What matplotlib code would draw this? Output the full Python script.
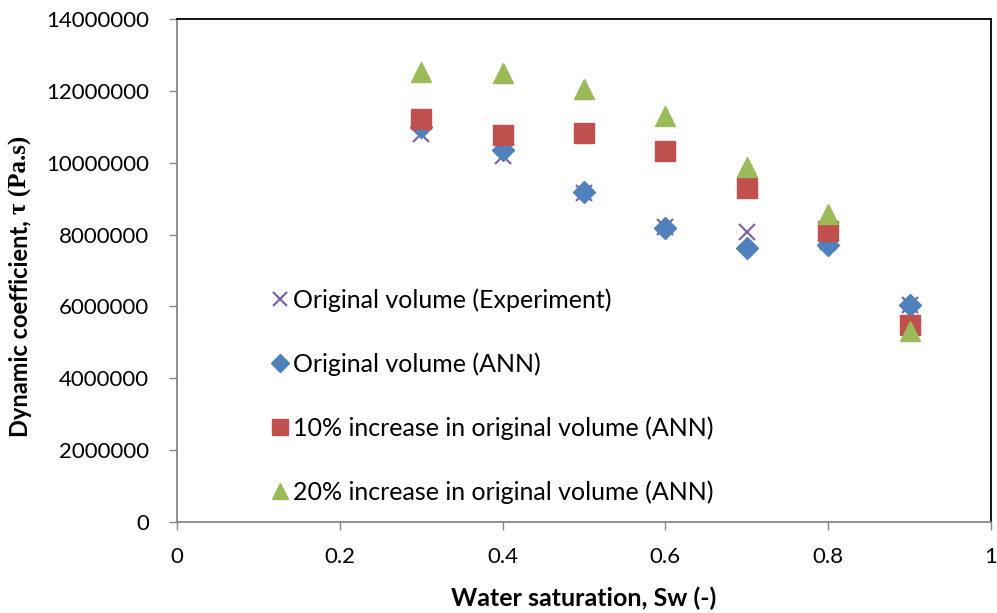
import matplotlib
matplotlib.use("Agg")
import matplotlib.pyplot as plt
from matplotlib.ticker import FixedLocator

# Water saturation values
sw = [0.3, 0.4, 0.5, 0.6, 0.7, 0.8, 0.9]

# Dynamic coefficient (Pa.s) for each case
tau_experiment = [10800000, 10200000, 9150000, 8200000, 8080000, 7800000, 6050000]
tau_ann = [11000000, 10350000, 9180000, 8190000, 7620000, 7700000, 6040000]
tau_ann_10 = [11220000, 10770000, 10830000, 10330000, 9300000, 8110000, 5480000]
tau_ann_20 = [12520000, 12500000, 12050000, 11300000, 9880000, 8570000, 5330000]

labels = [
    "Original volume (Experiment)",
    "Original volume (ANN)",
    "10% increase in original volume (ANN)",
    "20% increase in original volume (ANN)",
]

x_ticks = [0, 0.2, 0.4, 0.6, 0.8, 1]
y_ticks = [0, 2000000, 4000000, 6000000, 8000000, 10000000, 12000000, 14000000]

font = "Lato"
plt.rcParams["font.family"] = [font, "DejaVu Sans"]

fig = plt.figure(figsize=(9.97, 6.13), dpi=100)
ax = fig.add_axes([177 / 997, 1 - 522 / 613, (991 - 177) / 997, (522 - 19) / 613])

ax.plot(sw, tau_experiment, linestyle="none", marker="x", ms=12, mew=1.6,
        color="#8064A2", label=labels[0], zorder=3)
ax.plot(sw, tau_ann, linestyle="none", marker="D", ms=11, color="#4F81BD",
        mec="#4F81BD", label=labels[1], zorder=4)
ax.plot(sw, tau_ann_10, linestyle="none", marker="s", ms=14, color="#C0504D",
        mec="#C0504D", label=labels[2], zorder=5)
ax.plot(sw, tau_ann_20, linestyle="none", marker="^", ms=15, color="#9BBB59",
        mec="#9BBB59", label=labels[3], zorder=6)

ax.set_xlim(0, 1)
ax.set_ylim(0, 14000000)
ax.xaxis.set_major_locator(FixedLocator(x_ticks))
ax.yaxis.set_major_locator(FixedLocator(y_ticks))
ax.set_xticklabels(["0", "0.2", "0.4", "0.6", "0.8", "1"])
ax.set_yticklabels([str(v) for v in y_ticks])
ax.tick_params(axis="both", labelsize=16, length=6, width=1, color="#868686",
               direction="out")
ax.tick_params(axis="y", pad=14)
ax.tick_params(axis="x", pad=12)

for side in ("left", "bottom"):
    ax.spines[side].set_color("#868686")
    ax.spines[side].set_linewidth(1.3)
for side in ("top", "right"):
    ax.spines[side].set_color("black")
    ax.spines[side].set_linewidth(1.3)

ax.set_xlabel("Water saturation, Sw (-)", fontsize=18, fontweight="bold",
              labelpad=14)

leg = ax.legend(loc="upper left", bbox_to_anchor=(0.10, 0.485), frameon=False,
                fontsize=18, labelspacing=1.62, handletextpad=0.1,
                handlelength=0.9, borderaxespad=0, markerscale=0.8)

# y-axis label in two fonts, running upward from its start point
fig.canvas.draw()
r = fig.canvas.get_renderer()
t1 = fig.text(20 / 997, 1 - 437 / 613, "Dynamic coefficient, ", rotation=90,
              fontsize=17, fontweight="bold", ha="left", va="center",
              rotation_mode="anchor")
bb = t1.get_window_extent(r)
t2 = fig.text(20 / 997, bb.y1 / fig.bbox.height, "τ (Pa.s)", rotation=90,
              fontsize=18, fontweight="bold", family="Liberation Serif",
              ha="left", va="center", rotation_mode="anchor")

fig.savefig("out.png", dpi=100)
